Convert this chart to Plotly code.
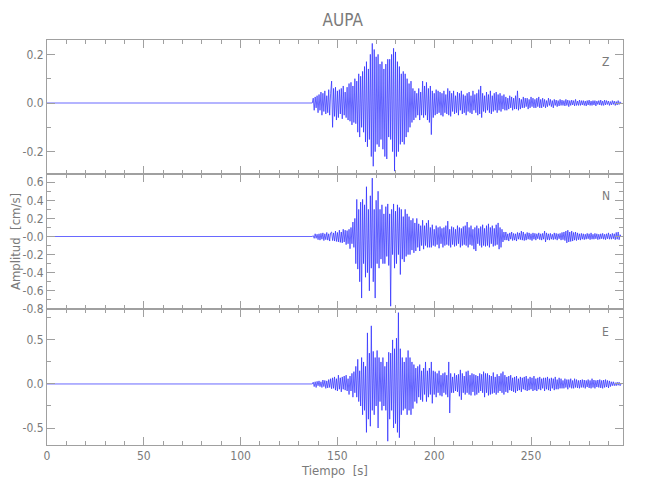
import numpy as np
import plotly.graph_objects as go
from plotly.subplots import make_subplots

TITLE = "AUPA"
ONSET = 137.0   # s, start of recorded motion
DT = 0.5

z_vals = [
    0.0, 0.02, -0.03, 0.025, -0.02, 0.03, -0.04, 0.035, -0.03, 0.045, -0.05, 0.04, -0.035, 0.05, -0.045, 0.03, -0.04, 0.055, -0.05, 0.04,
    0.09, -0.1, 0.06, -0.055, 0.065, -0.07, 0.05, -0.06, 0.055, -0.045, 0.06, -0.065, 0.07, -0.05, 0.045, -0.06, 0.065, -0.07, 0.08, -0.075,
    0.085, -0.09, 0.07, -0.08, 0.1, -0.085, 0.09, -0.12, 0.12, -0.14, 0.11, -0.1, 0.13, -0.12, 0.15, -0.16, 0.17, -0.18, 0.14, -0.15,
    0.2, -0.22, 0.245, -0.26, 0.22, -0.2, 0.19, -0.17, 0.2, -0.18, 0.16, -0.15, 0.17, -0.19, 0.14, -0.22, 0.16, -0.23, 0.18, -0.14,
    0.18, -0.15, 0.2, -0.2, 0.225, -0.28, 0.21, -0.22, 0.17, -0.2, 0.15, -0.17, 0.12, -0.16, 0.13, -0.17, 0.12, -0.14, 0.1, -0.12,
    0.08, -0.1, 0.09, -0.08, 0.06, -0.07, 0.05, -0.06, 0.04, -0.05, 0.06, -0.07, 0.045, -0.05, 0.09, -0.06, 0.07, -0.05, 0.085, -0.07,
    0.06, -0.08, 0.07, -0.13, 0.05, -0.06, 0.04, -0.05, 0.055, -0.045, 0.05, -0.04, 0.045, -0.05, 0.04, -0.055, 0.05, -0.04, 0.035, -0.045,
    0.06, -0.05, 0.05, -0.055, 0.04, -0.035, 0.05, -0.045, 0.03, -0.04, 0.045, -0.05, 0.04, -0.03, 0.05, -0.045, 0.035, -0.04, 0.03, -0.05,
    0.04, -0.035, 0.045, -0.04, 0.03, -0.045, 0.05, -0.03, 0.035, -0.04, 0.04, -0.05, 0.055, -0.045, 0.07, -0.06, 0.04, -0.035, 0.03, -0.04,
    0.045, -0.03, 0.035, -0.04, 0.05, -0.045, 0.03, -0.035, 0.04, -0.03, 0.045, -0.04, 0.035, -0.03, 0.04, -0.035, 0.03, -0.025, 0.035, -0.03,
    0.025, -0.03, 0.02, -0.025, 0.03, -0.02, 0.025, -0.03, 0.02, -0.025, 0.03, -0.025, 0.05, -0.03, 0.02, -0.025, 0.015, -0.02, 0.025, -0.02,
    0.02, -0.015, 0.02, -0.025, 0.015, -0.02, 0.025, -0.015, 0.02, -0.02, 0.015, -0.02, 0.02, -0.015, 0.025, -0.02, 0.015, -0.02, 0.02, -0.015,
    0.015, -0.02, 0.01, -0.015, 0.02, -0.01, 0.015, -0.015, 0.01, -0.02, 0.015, -0.01, 0.012, -0.015, 0.01, -0.012, 0.015, -0.01, 0.012, -0.01,
    0.01, -0.012, 0.015, -0.01, 0.012, -0.015, 0.01, -0.01, 0.012, -0.008, 0.01, -0.012, 0.015, -0.01, 0.008, -0.01, 0.012, -0.01, 0.01, -0.008,
    0.01, -0.01, 0.008, -0.012, 0.01, -0.008, 0.012, -0.01, 0.008, -0.01, 0.01, -0.008, 0.01, -0.012, 0.008, -0.006, 0.01, -0.008, 0.012, -0.01,
    0.008, -0.01, 0.012, -0.008, 0.01, -0.006, 0.008, -0.01, 0.006, -0.008, 0.01, -0.006, 0.008, -0.01, 0.006, -0.008, 0.01, -0.006, 0.005, 0.0,
]

n_vals = [
    0.0, 0.01, -0.02, 0.03, -0.02, 0.025, -0.035, 0.03, -0.04, 0.035, -0.03, 0.04, -0.045, 0.03, -0.035, 0.045, -0.04, 0.03, -0.05, 0.04,
    0.05, -0.045, 0.04, -0.05, 0.06, -0.055, 0.045, -0.06, 0.07, -0.065, 0.05, -0.07, 0.08, -0.06, 0.07, -0.09, 0.065, -0.08, 0.08, -0.135,
    0.1, -0.08, 0.16, -0.12, 0.2, -0.3, 0.41, -0.36, 0.3, -0.5, 0.38, -0.68, 0.41, -0.3, 0.35, -0.45, 0.55, -0.4, 0.3, -0.6,
    0.45, -0.35, 0.645, -0.5, 0.3, -0.68, 0.4, -0.3, 0.5, -0.35, 0.3, -0.25, 0.35, -0.3, 0.25, -0.3, 0.33, -0.22, 0.36, -0.32,
    0.25, -0.77, 0.3, -0.2, 0.36, -0.35, 0.28, -0.3, 0.35, -0.2, 0.32, -0.42, 0.3, -0.25, 0.22, -0.28, 0.3, -0.22, 0.25, -0.2,
    0.22, -0.2, 0.18, -0.15, 0.2, -0.18, 0.15, -0.16, 0.2, -0.12, 0.14, -0.16, 0.12, -0.1, 0.18, -0.14, 0.12, -0.1, 0.15, -0.12,
    0.18, -0.12, 0.1, -0.12, 0.13, -0.1, 0.08, -0.11, 0.12, -0.09, 0.1, -0.13, 0.11, -0.08, 0.09, -0.12, 0.1, -0.1, 0.12, -0.09,
    0.17, -0.1, 0.08, -0.12, 0.11, -0.09, 0.1, -0.11, 0.08, -0.1, 0.12, -0.08, 0.1, -0.12, 0.09, -0.1, 0.11, -0.09, 0.12, -0.1,
    0.16, -0.12, 0.1, -0.09, 0.12, -0.1, 0.08, -0.14, 0.1, -0.16, 0.12, -0.08, 0.09, -0.1, 0.11, -0.12, 0.13, -0.1, 0.09, -0.11,
    0.12, -0.1, 0.14, -0.12, 0.1, -0.08, 0.12, -0.11, 0.09, -0.1, 0.13, -0.09, 0.15, -0.14, 0.1, -0.12, 0.08, -0.06, 0.05, -0.04,
    0.05, -0.04, 0.03, -0.05, 0.04, -0.03, 0.05, -0.045, 0.035, -0.04, 0.03, -0.05, 0.045, -0.03, 0.04, -0.035, 0.06, -0.04, 0.05, -0.045,
    0.03, -0.04, 0.045, -0.03, 0.04, -0.035, 0.03, -0.045, 0.04, -0.03, 0.035, -0.04, 0.03, -0.025, 0.04, -0.035, 0.03, -0.04, 0.035, -0.03,
    0.06, -0.06, 0.04, -0.035, 0.03, -0.04, 0.035, -0.03, 0.025, -0.035, 0.04, -0.03, 0.035, -0.04, 0.03, -0.025, 0.035, -0.04, 0.045, -0.035,
    0.05, -0.045, 0.06, -0.07, 0.07, -0.06, 0.05, -0.055, 0.06, -0.05, 0.045, -0.04, 0.05, -0.045, 0.04, -0.035, 0.03, -0.04, 0.035, -0.03,
    0.03, -0.035, 0.025, -0.03, 0.035, -0.025, 0.03, -0.035, 0.04, -0.03, 0.025, -0.03, 0.035, -0.025, 0.03, -0.035, 0.025, -0.03, 0.03, -0.025,
    0.035, -0.03, 0.025, -0.035, 0.03, -0.025, 0.04, -0.03, 0.025, -0.03, 0.035, -0.025, 0.03, -0.035, 0.045, -0.03, 0.05, -0.035, 0.02, 0.0,
]

e_vals = [
    0.0, 0.02, -0.03, 0.025, -0.04, 0.03, -0.02, 0.035, -0.03, 0.025, -0.04, 0.045, -0.03, 0.04, -0.05, 0.035, -0.045, 0.05, -0.04, 0.06,
    -0.055, 0.07, -0.05, 0.08, -0.07, 0.06, -0.08, 0.1, -0.06, 0.07, -0.09, 0.08, -0.06, 0.09, -0.07, 0.1, -0.08, 0.06, -0.12, 0.09,
    -0.08, 0.12, -0.15, 0.14, -0.1, 0.2, -0.15, 0.28, -0.2, 0.15, -0.25, 0.3, -0.35, 0.25, -0.3, 0.2, -0.55, 0.58, -0.4, 0.35,
    -0.48, 0.66, -0.3, 0.37, -0.35, 0.3, -0.25, 0.38, -0.5, 0.3, -0.2, 0.25, -0.3, 0.3, -0.25, 0.2, -0.3, 0.25, -0.65, 0.36,
    -0.4, 0.35, -0.3, 0.5, -0.5, 0.4, -0.45, 0.52, -0.55, 0.81, -0.61, 0.4, -0.35, 0.3, -0.3, 0.25, -0.28, 0.3, -0.35, 0.38,
    -0.3, 0.3, -0.35, 0.25, -0.28, 0.22, -0.2, 0.18, -0.22, 0.2, -0.15, 0.22, -0.18, 0.15, -0.2, 0.18, -0.12, 0.25, -0.2, 0.15,
    -0.15, 0.18, -0.12, 0.25, -0.22, 0.15, -0.12, 0.14, -0.15, 0.12, -0.1, 0.15, -0.13, 0.1, -0.14, 0.12, -0.1, 0.13, -0.12, 0.1,
    -0.15, 0.25, -0.33, 0.12, -0.1, 0.08, -0.1, 0.12, -0.08, 0.1, -0.09, 0.11, -0.14, 0.16, -0.18, 0.12, -0.1, 0.09, -0.12, 0.14,
    -0.1, 0.15, -0.12, 0.1, -0.13, 0.12, -0.09, 0.11, -0.13, 0.1, -0.12, 0.09, -0.1, 0.12, -0.08, 0.11, -0.1, 0.14, -0.15, 0.12,
    -0.1, 0.12, -0.13, 0.1, -0.12, 0.09, -0.11, 0.13, -0.1, 0.08, -0.12, 0.11, -0.1, 0.09, -0.08, 0.12, -0.1, 0.14, -0.12, 0.1,
    -0.09, 0.08, -0.1, 0.09, -0.07, 0.1, -0.08, 0.07, -0.09, 0.08, -0.1, 0.09, -0.08, 0.06, -0.07, 0.08, -0.09, 0.07, -0.06, 0.08,
    -0.07, 0.09, -0.08, 0.06, -0.07, 0.08, -0.06, 0.07, -0.08, 0.09, -0.07, 0.06, -0.08, 0.07, -0.06, 0.08, -0.07, 0.06, -0.05, 0.07,
    -0.08, 0.07, -0.06, 0.08, -0.07, 0.06, -0.08, 0.07, -0.05, 0.06, -0.07, 0.08, -0.06, 0.05, -0.06, 0.07, -0.05, 0.06, -0.05, 0.04,
    -0.05, 0.06, -0.04, 0.05, -0.06, 0.05, -0.04, 0.06, -0.05, 0.04, -0.05, 0.06, -0.04, 0.05, -0.045, 0.04, -0.05, 0.045, -0.04, 0.05,
    -0.04, 0.045, -0.05, 0.04, -0.035, 0.05, -0.045, 0.04, -0.05, 0.06, -0.04, 0.045, -0.05, 0.04, -0.035, 0.045, -0.04, 0.05, -0.045, 0.04,
    -0.05, 0.045, -0.04, 0.05, -0.035, 0.04, -0.045, 0.035, -0.03, 0.025, -0.02, 0.025, -0.02, 0.015, -0.02, 0.02, -0.015, 0.02, -0.02, 0.0,
]

components = ["Z", "N", "E"]
y_tickvals = [[-0.2, 0.0, 0.2],
              [-0.8, -0.6, -0.4, -0.2, 0.0, 0.2, 0.4, 0.6],
              [-0.5, 0.0, 0.5]]
y_ticktext = [["-0.2", "0.0", "0.2"],
              ["-0.8", "-0.6", "-0.4", "-0.2", "-0.0", "0.2", "0.4", "0.6"],
              ["-0.5", "0.0", "0.5"]]
y_minor = [0.1, 0.1, 0.25]
y_ranges = [[-0.292, 0.259], [-0.8, 0.69], [-0.693, 0.852]]
x_tickvals = [0, 50, 100, 150, 200, 250]
x_range = [0, 297.5]

FONT = "Liberation Sans Narrow, DejaVu Sans Condensed, Arial Narrow, sans-serif"
GREY = "#7a7a7a"
AXC = "#a0a0a0"
LINE = "rgb(40,40,255)"

fig = make_subplots(rows=3, cols=1, shared_xaxes=False, vertical_spacing=0)

t_event = ONSET + DT * np.arange(len(z_vals))
for i, vals in enumerate([z_vals, n_vals, e_vals]):
    x = np.concatenate([[0.0], t_event])
    y = np.concatenate([[0.0], np.asarray(vals)])
    fig.add_trace(go.Scatter(x=x, y=y, mode="lines",
                             line=dict(color=LINE, width=0.7),
                             showlegend=False, hoverinfo="skip"),
                  row=i + 1, col=1)

domains = [[0.669, 1.0], [0.336, 0.669], [0.0, 0.336]]
for i in range(3):
    r = i + 1
    fig.update_yaxes(row=r, col=1, domain=domains[i], range=y_ranges[i],
                     tickvals=y_tickvals[i], ticktext=y_ticktext[i],
                     ticks="inside", ticklen=8, tickcolor=AXC, tickwidth=1,
                     minor=dict(ticks="inside", dtick=y_minor[i], ticklen=4,
                                tickcolor=AXC, showgrid=False),
                     showline=True, linecolor=AXC, linewidth=1, mirror="ticks",
                     showgrid=False, zeroline=False, automargin=False,
                     tickfont=dict(family=FONT, size=12, color=GREY))
    fig.update_xaxes(row=r, col=1, range=x_range,
                     tickvals=x_tickvals, showticklabels=(r == 3),
                     ticks="inside", ticklen=8, tickcolor=AXC, tickwidth=1,
                     minor=dict(ticks="inside", dtick=10, tick0=0, ticklen=4,
                                tickcolor=AXC, showgrid=False),
                     showline=True, linecolor=AXC, linewidth=1, mirror="ticks",
                     showgrid=False, zeroline=False, automargin=False,
                     tickfont=dict(family=FONT, size=12, color=GREY))

fig.update_xaxes(row=3, col=1, title=dict(text="Tiempo  [s]", standoff=0,
                                          font=dict(family=FONT, size=13, color=GREY)))
fig.update_yaxes(row=2, col=1, title=dict(text="Amplitud  [cm/s]", standoff=2,
                                          font=dict(family=FONT, size=13, color=GREY)))

label_y = [0.945, 0.615, 0.28]
for comp, ly in zip(components, label_y):
    fig.add_annotation(text=comp, xref="paper", yref="paper", x=0.97, y=ly,
                       showarrow=False, xanchor="center", yanchor="middle",
                       font=dict(family=FONT, size=12, color=GREY))

fig.update_layout(
    width=650, height=500,
    margin=dict(l=39, r=35, t=32, b=63),
    paper_bgcolor="white", plot_bgcolor="white",
    title=dict(text=TITLE, x=0.515, xanchor="center", y=0.975, yanchor="middle",
               font=dict(family=FONT, size=17, color=GREY)),
)

fig.write_html("out.html")
